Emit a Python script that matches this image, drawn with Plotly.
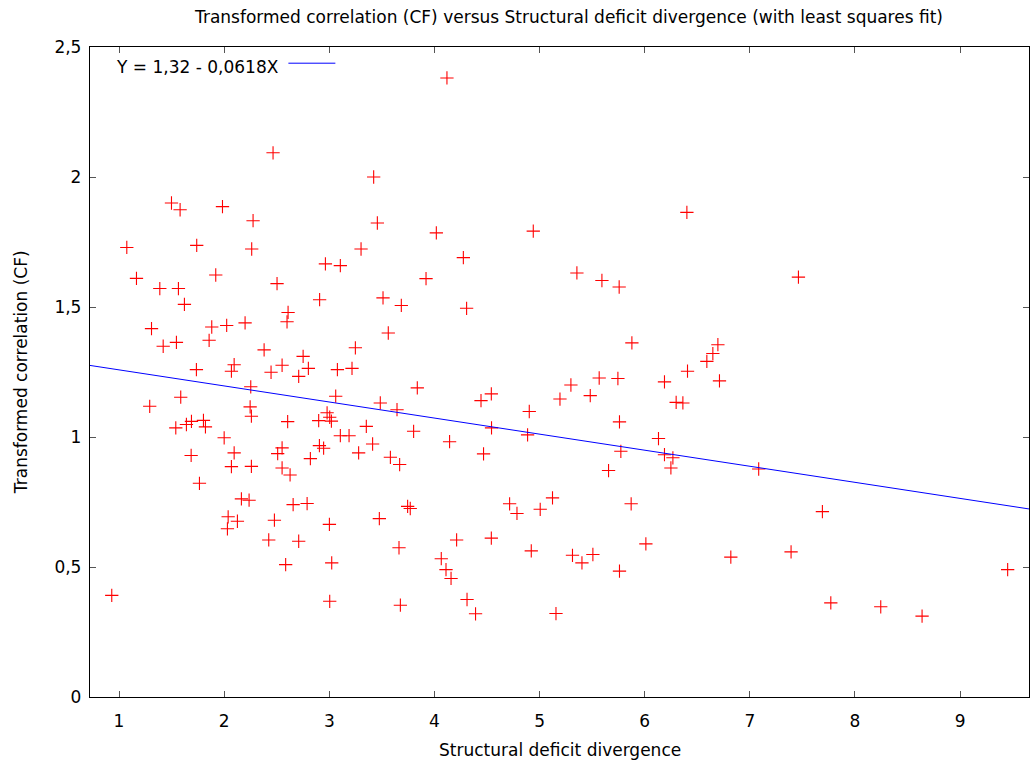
import plotly.graph_objects as go

# Structural deficit divergence (x) and transformed correlation CF (y)
divergence = [
    1.499, 1.581, 1.984, 2.275, 1.074, 1.739, 2.262, 1.166, 1.920, 1.388,
    1.565, 1.622, 1.309, 1.420, 1.546, 1.882, 2.024, 2.199, 1.857,
    1.736, 2.095, 2.069, 2.253, 1.587, 1.292, 2.247, 2.259, 1.540, 1.641,
    1.689, 1.803, 1.822, 2.000, 2.095, 1.686, 2.069, 2.259, 1.765, 2.164,
    2.237, 2.038, 2.126, 2.031, 0.931,
    2.465, 3.422, 3.457, 3.302, 2.963, 3.105, 2.503, 2.908, 3.511, 3.685,
    2.608, 2.598, 3.561, 2.380, 3.248,
    2.751, 2.551, 2.446, 2.801, 2.709, 3.077, 3.216, 3.837, 3.061, 3.485,
    3.644, 2.604, 2.899, 2.979, 3.004, 3.020, 3.352, 3.105, 3.188, 3.802,
    3.412, 2.551, 2.509, 2.906, 2.946, 3.279, 2.820, 3.581, 3.669, 2.551,
    2.627, 2.656, 2.789, 3.745, 3.770, 3.476, 2.478, 3.001, 2.424, 2.709,
    3.663, 2.585, 3.023, 3.004, 3.676,
    4.119, 4.018, 4.940, 4.275, 3.920, 5.355, 4.306,
    4.443, 4.541, 5.298, 5.194, 4.902, 4.543, 4.886, 4.144, 4.467, 4.715,
    4.785, 5.006, 5.123, 4.211, 4.541, 4.921, 5.313, 4.065, 4.110, 4.158,
    4.310, 4.391, 5.156,
    6.401, 5.593, 5.757, 5.878, 6.696, 6.648, 6.591, 6.407, 6.188, 6.711,
    5.567, 5.745, 5.482,
    6.299, 6.363, 5.760, 6.131, 5.773, 6.188, 6.268, 6.249, 5.656, 7.084,
    5.871, 6.011, 6.819, 5.507, 5.403, 5.760,
    7.462, 7.690, 7.392, 9.452, 7.770, 8.245, 8.638,
]
correlation = [
    1.900, 1.874, 1.886, 1.832, 1.729, 1.737, 1.723, 1.610, 1.623, 1.571,
    1.571, 1.510, 1.417, 1.349, 1.364, 1.423, 1.429, 1.439, 1.372,
    1.259, 1.278, 1.253, 1.193, 1.153, 1.118, 1.116, 1.080, 1.035, 1.048,
    1.060, 1.064, 1.039, 0.997, 0.939, 0.929, 0.886, 0.887, 0.822, 0.762,
    0.757, 0.693, 0.676, 0.647, 0.391,
    2.093, 2.000, 1.823, 1.723, 1.666, 1.659, 1.590, 1.528, 1.535, 1.506,
    1.479, 1.443, 1.400, 1.335, 1.343,
    1.310, 1.276, 1.249, 1.264, 1.233, 1.259, 1.264, 1.189, 1.157, 1.131,
    1.105, 1.059, 1.063, 1.093, 1.076, 1.061, 1.041, 1.005, 1.005, 1.022,
    0.973, 0.958, 0.936, 0.967, 0.957, 0.939, 0.917, 0.922, 0.894, 0.881,
    0.854, 0.740, 0.744, 0.733, 0.725, 0.686, 0.680, 0.664, 0.604, 0.599,
    0.574, 0.509, 0.516, 0.368, 0.353,
    2.381, 1.785, 1.792, 1.690, 1.609, 1.631, 1.495,
    1.140, 1.166, 1.200, 1.146, 1.098, 1.035, 1.008, 0.982, 0.935, 0.743,
    0.706, 0.722, 0.766, 0.604, 0.611, 0.562, 0.545, 0.532, 0.490, 0.456,
    0.375, 0.320, 0.321,
    1.864, 1.602, 1.577, 1.362, 1.355, 1.321, 1.291, 1.253, 1.212, 1.216,
    1.227, 1.225, 1.159,
    1.133, 1.131, 1.058, 0.994, 0.945, 0.932, 0.920, 0.881, 0.871, 0.877,
    0.743, 0.589, 0.538, 0.548, 0.516, 0.484,
    1.615, 0.713, 0.558, 0.490, 0.362, 0.347, 0.311,
]

# Least squares fit: Y = a + b*X
fit_intercept = 1.32
fit_slope = -0.0618

x_ticks = [1, 2, 3, 4, 5, 6, 7, 8, 9]
y_ticks = [0, 0.5, 1, 1.5, 2, 2.5]
y_tick_labels = ["0", "0,5", "1", "1,5", "2", "2,5"]

x_range = [0.724, 9.655]
y_range = [0, 2.5]

W, H = 1036, 767
L, R, T, B = 89.5, 1029.0, 47.3, 697.5
FONT = "DejaVu Sans"
FS = 17


def px_x(p):
    return (p - L) / (R - L)


def px_y(p):
    return (B - p) / (B - T)


def fmt(v):
    return f"{v:g}".replace(".", ",")


fig = go.Figure()

fig.add_trace(go.Scatter(
    x=divergence, y=correlation, mode="markers",
    marker=dict(symbol="cross-thin", size=9.5, color="red",
                line=dict(color="red", width=1.1)),
    showlegend=False,
))

fig.add_trace(go.Scatter(
    x=x_range,
    y=[fit_intercept + fit_slope * v for v in x_range],
    mode="lines", line=dict(color="blue", width=1),
    showlegend=False,
))

label = f"Y = {fmt(fit_intercept)} - {fmt(abs(fit_slope))}X"

axis_common = dict(
    ticks="inside", ticklen=6, tickcolor="#555555", tickwidth=1,
    showline=True, linecolor="black", linewidth=1.3, mirror="ticks",
    showgrid=False, zeroline=False,
    tickfont=dict(family=FONT, size=FS, color="black"),
)

fig.update_layout(
    width=W, height=H,
    margin=dict(l=L, r=W - R, t=T, b=H - B, pad=0),
    paper_bgcolor="white", plot_bgcolor="white",
    font=dict(family=FONT, size=FS, color="black"),
    xaxis=dict(range=x_range, tickvals=x_ticks, ticklabelstandoff=8,
               **axis_common),
    yaxis=dict(range=y_range, tickvals=y_ticks, ticktext=y_tick_labels,
               ticklabelstandoff=4, **axis_common),
    annotations=[
        dict(text="Transformed correlation (CF) versus Structural deficit divergence (with least squares fit)",
             xref="paper", yref="paper", x=px_x(568.5), y=px_y(17),
             xanchor="center", yanchor="middle", showarrow=False,
             font=dict(family=FONT, size=FS)),
        dict(text="Structural deficit divergence",
             xref="paper", yref="paper", x=px_x(560), y=px_y(751),
             xanchor="center", yanchor="middle", showarrow=False,
             font=dict(family=FONT, size=FS)),
        dict(text="Transformed correlation (CF)",
             xref="paper", yref="paper", x=px_x(20), y=px_y(373),
             xanchor="center", yanchor="middle", showarrow=False,
             textangle=-90, font=dict(family=FONT, size=FS)),
        dict(text=label,
             xref="paper", yref="paper", x=px_x(281), y=px_y(67),
             xanchor="right", yanchor="middle", showarrow=False,
             font=dict(family=FONT, size=FS)),
    ],
    shapes=[
        dict(type="line", xref="paper", yref="paper",
             x0=px_x(288), x1=px_x(335), y0=px_y(63.5), y1=px_y(63.5),
             line=dict(color="blue", width=1)),
    ],
)

fig.write_html("out.html")
